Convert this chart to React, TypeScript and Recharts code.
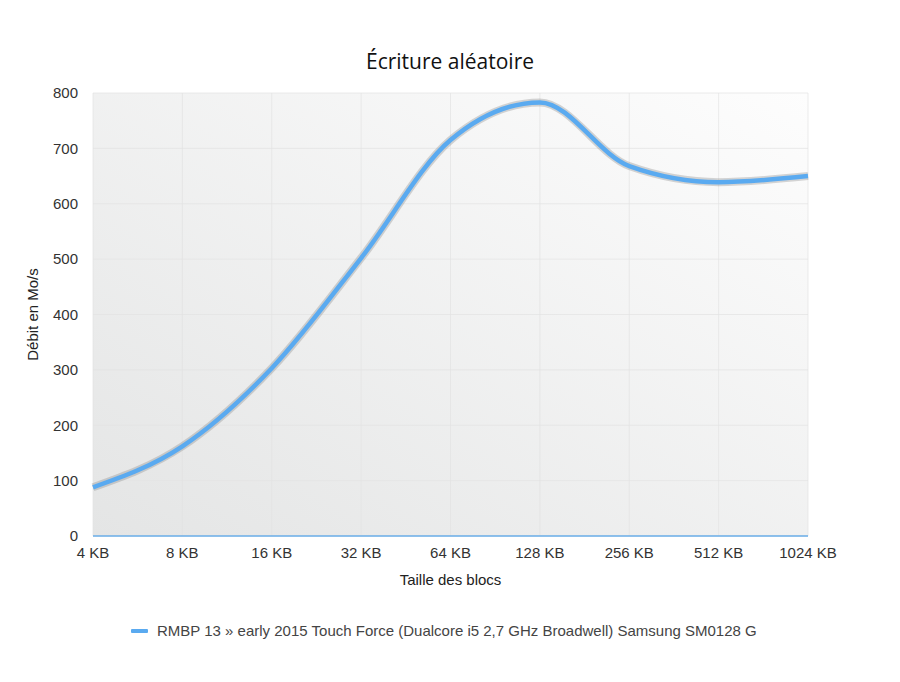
import { LineChart, Line, XAxis, YAxis, CartesianGrid } from "recharts";
import React from "react";

const blockSizes = ["4 KB", "8 KB", "16 KB", "32 KB", "64 KB", "128 KB", "256 KB", "512 KB", "1024 KB"];
const writeSpeed = [88, 162, 303, 502, 715, 783, 668, 639, 650];
const yTicks = [0, 100, 200, 300, 400, 500, 600, 700, 800];

const seriesName = "RMBP 13 » early 2015 Touch Force (Dualcore i5 2,7 GHz Broadwell) Samsung SM0128 G";

const data = blockSizes.map((size, i) => ({ size, speed: writeSpeed[i] }));

const tickStyle = { fontSize: 15, fill: "#333", fontFamily: "Liberation Sans, Arial, sans-serif" };

const App = () => {
  return (
    <div style={{ position: "absolute", top: 0, left: 0, width: 900, height: 682, background: "#fff" }}>
      <div
        style={{
          position: "absolute",
          top: 47,
          width: 900,
          textAlign: "center",
          fontFamily: "Open Sans, sans-serif",
          fontSize: 21,
          color: "#111",
        }}
      >
        Écriture aléatoire
      </div>
      <LineChart width={900} height={682} data={data} margin={{ top: 93, right: 92, left: 0, bottom: 91 }}>
        <defs>
          <linearGradient id="plotBg" x1="0" y1="1" x2="1" y2="0">
            <stop offset="0%" stopColor="#e4e5e5" />
            <stop offset="100%" stopColor="#fdfdfd" />
          </linearGradient>
        </defs>
        <CartesianGrid fill="url(#plotBg)" stroke="#e2e2e2" strokeWidth={0.7} />
        <XAxis
          dataKey="size"
          interval={0}
          tickLine={false}
          axisLine={{ stroke: "#6aaee8", strokeWidth: 1.5 }}
          tick={tickStyle}
          tickMargin={5}
          height={55}
          padding={{ left: 0, right: 0 }}
          label={{
            value: "Taille des blocs",
            position: "insideBottom",
            offset: 6,
            style: { fontSize: 15, fill: "#222", fontFamily: "Liberation Sans, Arial, sans-serif" },
          }}
        />
        <YAxis
          domain={[0, 800]}
          ticks={yTicks}
          tickLine={false}
          axisLine={false}
          tick={tickStyle}
          tickMargin={9}
          width={93}
          label={{
            value: "Débit en Mo/s",
            angle: -90,
            position: "insideLeft",
            offset: 33,
            style: { fontSize: 15, fill: "#222", fontFamily: "Liberation Sans, Arial, sans-serif", textAnchor: "middle" },
          }}
        />
        <Line
          type="monotone"
          dataKey="speed"
          stroke="#8a8a8a"
          strokeOpacity={0.35}
          strokeWidth={8}
          dot={false}
          activeDot={false}
          isAnimationActive={false}
        />
        <Line
          type="monotone"
          dataKey="speed"
          stroke="#5aaaf0"
          strokeWidth={4.5}
          dot={false}
          activeDot={false}
          isAnimationActive={false}
        />
      </LineChart>
      <div
        style={{
          position: "absolute",
          top: 622,
          left: 131,
          display: "flex",
          alignItems: "center",
          gap: 9,
          fontFamily: "Liberation Sans, Arial, sans-serif",
          fontSize: 15,
          color: "#444",
        }}
      >
        <span style={{ width: 17, height: 4, background: "#5aaaf0", display: "block", borderRadius: 1 }} />
        {seriesName}
      </div>
    </div>
  );
};

export default App;
